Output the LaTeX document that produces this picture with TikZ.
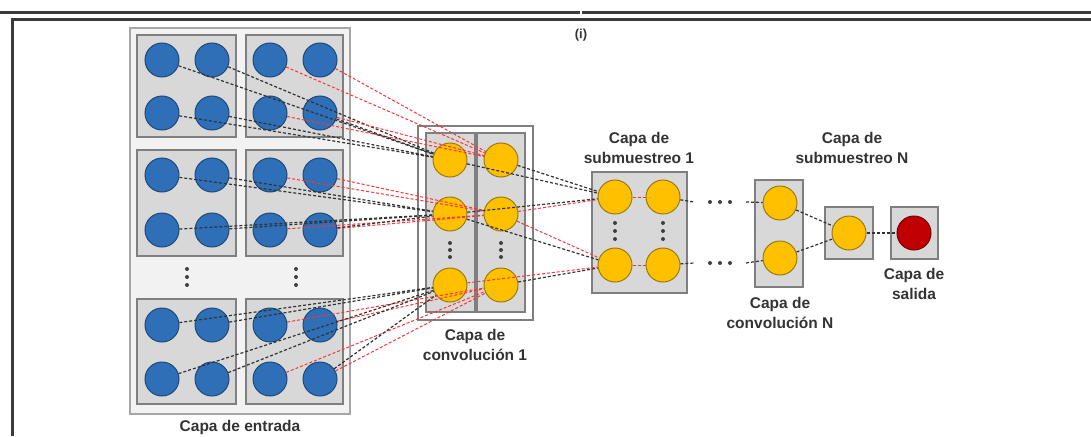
\documentclass[tikz,border=0pt]{standalone}
\usepackage{fontspec}
\setmainfont{Liberation Sans}
\usetikzlibrary{positioning}
\definecolor{inblue}{HTML}{2E6FB7}
\definecolor{inblueline}{HTML}{1F4A78}
\definecolor{cvyellow}{HTML}{FFC000}
\definecolor{cvyellowline}{HTML}{9A7B10}
\definecolor{outred}{HTML}{C00000}
\definecolor{outredline}{HTML}{7A0000}
\definecolor{boxfill}{HTML}{D8D8D8}
\definecolor{boxline}{HTML}{7F7F7F}
\definecolor{panelfill}{HTML}{F2F2F2}
\definecolor{panelline}{HTML}{A6A6A6}
\definecolor{framegray}{HTML}{3A3A3A}
\tikzset{
  neuron/.style = {circle, draw, line width = 1pt, inner sep = 0, minimum size = 34},
  inneuron/.style = {neuron, fill = inblue, draw = inblueline},
  cvneuron/.style = {neuron, fill = cvyellow, draw = cvyellowline},
  outneuron/.style = {neuron, fill = outred, draw = outredline},
  mapbox/.style = {draw = boxline, fill = boxfill, line width = 1.3pt},
  panel/.style = {draw = panelline, fill = panelfill, line width = 1.3pt},
  blink/.style = {dash pattern = on 3pt off 2pt, line width = 1.2pt, black!80},
  rlink/.style = {dash pattern = on 3pt off 2pt, line width = 1pt, red!80},
  lbl/.style = {font = \bfseries\fontsize{15.5}{20}\selectfont, align = center, text = black!80},
  dot/.style = {fill = black!75, circle, inner sep = 0, minimum size = 4}
}

\begin{document}
\begin{tikzpicture}[x=1pt, y=-1pt]
      \useasboundingbox (0, 0) rectangle (1091, 436);
      % frame
      \draw[framegray, line width = 3.5pt] (0, 12.5) -- (1091, 12.5);
      \draw[framegray, line width = 3.5pt] (11, 19.5) -- (1091, 19.5);
      \draw[framegray, line width = 3.5pt] (12.5, 18) -- (12.5, 436);
      \draw[white, line width = 1.5pt] (581, 10) -- (581, 15);
      \node[font = \bfseries\fontsize{13}{14}\selectfont, text = black!80] (tag) at (581, 35) {(i)};
      % capa de entrada
      \draw[panel] (130, 28) rectangle (350, 414);
      \foreach \g/\ya/\yb/\top/\bot in {1/60/113/35/137, 2/175/230/150/256, 3/325/379/299/404} {
        \draw[mapbox] (137, \top) rectangle (236, \bot);
        \draw[mapbox] (246, \top) rectangle (343, \bot);
        \foreach \x/\c in {162/1, 212/2, 270/3, 320/4} {
          \node[inneuron] (in-\g-1-\c) at (\x, \ya) {};
          \node[inneuron] (in-\g-2-\c) at (\x, \yb) {};
        }
      }
      \foreach \x in {187, 296} {
        \foreach \y in {269, 277, 285} {
          \node[dot] at (\x, \y) {};
        }
      }
      \node[lbl] (in-label) at (240, 427) {Capa de entrada};
      % capa de convolucion 1
      \draw[panel, fill = white, draw = boxline] (418, 126) rectangle (533, 320);
      \draw[mapbox] (426, 133) rectangle (475, 312);
      \draw[mapbox] (477, 133) rectangle (525, 312);
      \foreach \x/\c in {450/1, 501/2} {
        \foreach \y/\r in {160/1, 214/2, 285/3} {
          \node[cvneuron] (cv-\c-\r) at (\x, \y) {};
        }
        \foreach \y in {243, 250, 257} {
          \node[dot] at (\x, \y) {};
        }
      }
      \node[lbl] (cv-label) at (475, 345) {Capa de\\convolución 1};
      % capa de submuestreo 1
      \draw[mapbox] (592, 172) rectangle (687, 293);
      \foreach \x/\c in {615/1, 663/2} {
        \node[cvneuron] (sb-\c-1) at (\x, 197) {};
        \node[cvneuron] (sb-\c-2) at (\x, 265) {};
        \foreach \y in {223, 231, 239} {
          \node[dot] at (\x, \y) {};
        }
      }
      \node[lbl] (sb-label) at (639, 148) {Capa de\\submuestreo 1};
      % puntos suspensivos
      \foreach \y/\r in {202/1, 263/2} {
        \foreach \x in {710, 720, 730} {
          \node[dot] at (\x, \y) {};
        }
        \coordinate (gap-\r-in) at (694, \y);
        \coordinate (gap-\r-out) at (746, \y);
      }
      % capa de convolucion N
      \draw[mapbox] (755, 180) rectangle (803, 287);
      \node[cvneuron] (cn-1) at (780, 203) {};
      \node[cvneuron] (cn-2) at (780, 258) {};
      \node[lbl] (cn-label) at (780, 313) {Capa de\\convolución N};
      % capa de submuestreo N
      \draw[mapbox] (825, 207) rectangle (873, 259);
      \node[cvneuron] (sn) at (849, 233) {};
      \node[lbl] (sn-label) at (852, 148) {Capa de\\submuestreo N};
      % capa de salida
      \draw[mapbox] (891, 207) rectangle (938, 259);
      \node[outneuron] (out) at (914, 233) {};
      \node[lbl] (out-label) at (914, 284) {Capa de\\salida};
      % conexiones entrada -> convolucion 1
      \foreach \g in {1, 2, 3} {
        \foreach \r in {1, 2} {
          \foreach \c in {3, 4} {
            \draw[rlink] (in-\g-\r-\c) -- (cv-2-\g);
          }
          \foreach \c in {1, 2} {
            \draw[blink] (in-\g-\r-\c) -- (cv-1-\g);
          }
        }
        \draw[blink] (in-\g-2-4) -- (cv-1-\g);
      }
      % conexiones convolucion 1 -> submuestreo 1
      \draw[blink] (cv-1-1) -- (sb-1-1);
      \draw[blink] (cv-2-1) -- (sb-1-1);
      \draw[rlink] (cv-2-2) -- (sb-1-1);
      \draw[blink] (cv-1-2) -- (sb-1-1);
      \draw[rlink] (cv-2-2) -- (sb-1-2);
      \draw[blink] (cv-1-2) -- (sb-1-2);
      \draw[blink] (cv-2-3) -- (sb-1-2);
      \draw[rlink] (cv-1-3) -- (sb-1-2);
      \foreach \r in {1, 2} {
        \draw[rlink] (sb-1-\r) -- (sb-2-\r);
        \draw[blink] (sb-2-\r) -- (gap-\r-in);
        \draw[blink] (gap-\r-out) -- (cn-\r);
        \draw[blink] (cn-\r) -- (sn);
      }
      \draw[blink] (sn) -- (out);
    \end{tikzpicture}
\end{document}
